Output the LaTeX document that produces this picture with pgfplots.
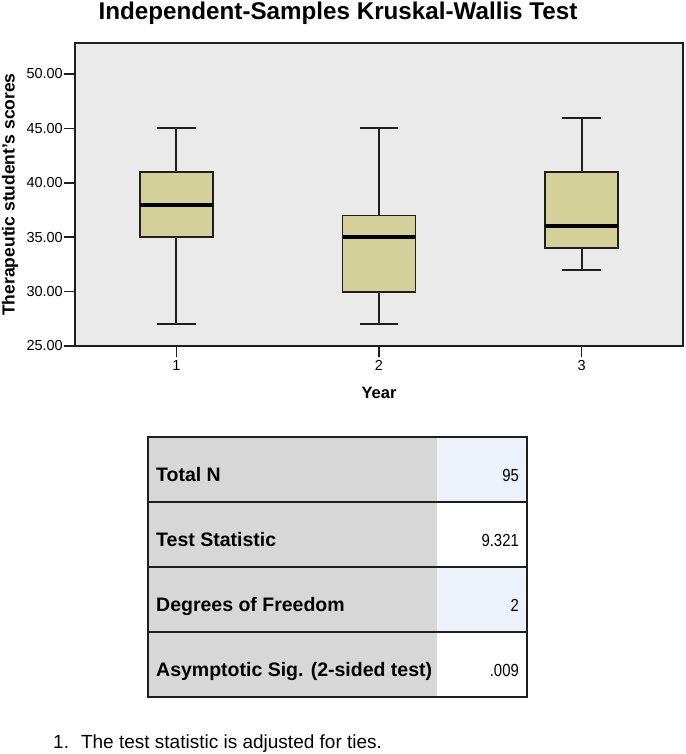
\documentclass[border=0pt]{standalone}
\usepackage{pgfplots}
\pgfplotsset{compat=1.18}
\usepgfplotslibrary{statistics}
\usepackage{fontspec}
\setmainfont{Liberation Sans}
\newfontfamily\narrowfont[FakeStretch=0.85]{Liberation Sans}

\definecolor{boxfill}{RGB}{212,208,153}
\definecolor{plotbg}{RGB}{234,234,234}
\definecolor{cellgray}{RGB}{215,215,215}
\definecolor{cellblue}{RGB}{236,241,250}
\definecolor{edge}{RGB}{30,30,30}

\begin{document}
\begin{tikzpicture}
\useasboundingbox (0pt,0pt) rectangle (685pt,-754pt);

% title
\node[anchor=base, font=\bfseries\fontsize{24.2}{28}\selectfont] at (338pt,-20pt) {Independent-Samples Kruskal-Wallis Test};

\begin{axis}[
  at={(75pt,-346pt)}, anchor=south west,
  scale only axis, width=608pt, height=303pt,
  xmin=0.5, xmax=3.5, ymin=25, ymax=52.85,
  axis background/.style={fill=plotbg},
  axis line style={edge, line width=1.6pt},
  xtick={1,2,3}, ytick={25,30,35,40,45,50},
  xtick pos=bottom, ytick pos=left, tick align=outside,
  major tick length=11pt,
  tick style={edge, line width=1.5pt},
  /pgf/number format/assume math mode=true,
  yticklabel style={/pgf/number format/fixed, /pgf/number format/fixed zerofill, /pgf/number format/precision=2, inner sep=1pt},
  ticklabel style={font=\fontsize{14.5}{17}\selectfont},
  xlabel={Year}, ylabel={Therapeutic student’s scores},
  xlabel style={font=\bfseries\fontsize{16.5}{19}\selectfont, at={(axis description cs:0.5,0)}, anchor=center, yshift=-47pt},
  ylabel style={font=\bfseries\fontsize{17.5}{21}\selectfont, at={(axis description cs:-0.1069,0.5)}, anchor=center},
  boxplot/draw direction=y,
  boxplot/every box/.style={draw=edge, fill=boxfill, line width=1.8pt},
  boxplot/every whisker/.style={draw=edge, line width=2pt},
  boxplot/every median/.style={draw=black, line width=4pt},
]
\addplot[draw=edge, fill=boxfill, line width=1.8pt, mark=none,
  boxplot prepared={lower whisker=27, lower quartile=35, median=38,
    upper quartile=41, upper whisker=45, draw position=1,
    box extend=0.36, whisker extend=0.19}] coordinates {};
\addplot[draw=edge, fill=boxfill, line width=1.8pt, mark=none,
  boxplot prepared={lower whisker=27, lower quartile=30, median=35,
    upper quartile=37, upper whisker=45, draw position=2,
    box extend=0.36, whisker extend=0.19}] coordinates {};
\addplot[draw=edge, fill=boxfill, line width=1.8pt, mark=none,
  boxplot prepared={lower whisker=32, lower quartile=34, median=36,
    upper quartile=41, upper whisker=46, draw position=3,
    box extend=0.36, whisker extend=0.19}] coordinates {};
\end{axis}

% summary table
\fill[cellgray] (148pt,-437pt) rectangle (437pt,-697pt);
\fill[cellblue] (437pt,-437pt) rectangle (527pt,-502pt);
\fill[white]    (437pt,-502pt) rectangle (527pt,-567pt);
\fill[cellblue] (437pt,-567pt) rectangle (527pt,-632pt);
\fill[white]    (437pt,-632pt) rectangle (527pt,-697pt);
\foreach \y in {502,567,632} \draw[edge, line width=1.6pt] (148pt,-\y pt) -- (527pt,-\y pt);
\draw[edge, line width=1.6pt] (148pt,-437pt) rectangle (527pt,-697pt);

\begin{scope}[every node/.style={inner sep=0pt}]
\begin{scope}[every node/.append style={anchor=base west, font=\bfseries\fontsize{19.5}{23}\selectfont}]
\node at (156pt,-481pt) {Total N};
\node at (156pt,-546pt) {Test Statistic};
\node at (156pt,-611pt) {Degrees of Freedom};
\node at (156pt,-676pt) {Asymptotic Sig. (2-sided test)};
\end{scope}
\begin{scope}[every node/.append style={anchor=base east, font=\narrowfont\fontsize{17.5}{21}\selectfont}]
\node at (519pt,-481pt) {95};
\node at (519pt,-546pt) {9.321};
\node at (519pt,-611pt) {2};
\node at (519pt,-676pt) {.009};
\end{scope}
\node[anchor=base west, font=\fontsize{19}{22}\selectfont] at (53pt,-748pt) {1.\hspace{12pt}The test statistic is adjusted for ties.};
\end{scope}
\end{tikzpicture}
\end{document}
